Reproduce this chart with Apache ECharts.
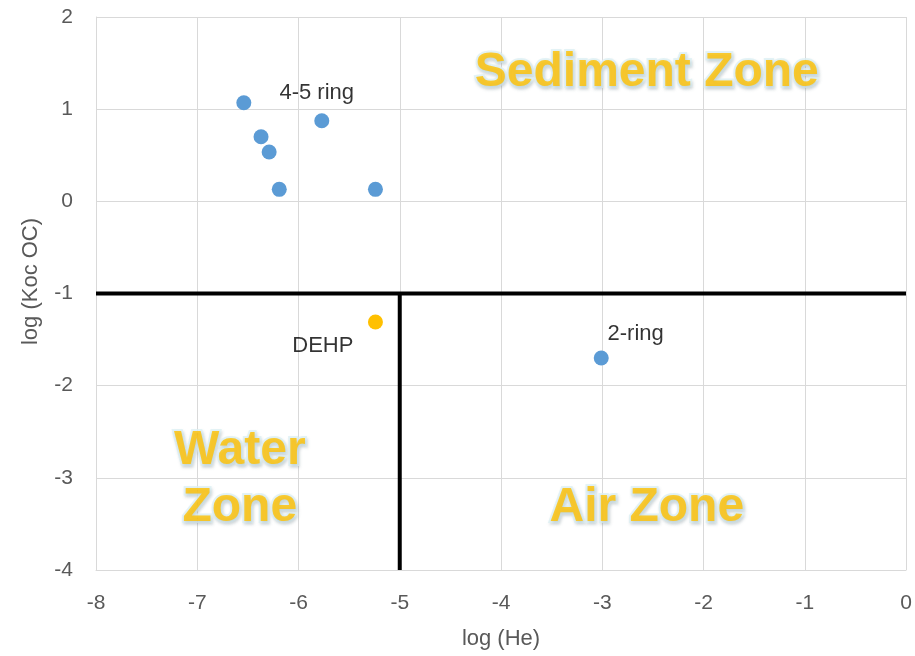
<!DOCTYPE html>
<html>
<head>
<meta charset="utf-8">
<script src="https://cdn.jsdelivr.net/npm/echarts@6/dist/echarts.min.js"></script>
<style>
  html, body { margin: 0; padding: 0; background: #fff; }
  #chart { width: 915px; height: 656px; }
</style>
</head>
<body>
<div id="chart"></div>
<script>
// Compound groups: [log He, log Koc OC]
const ringPoints = [
  [-6.54, 1.07],
  [-6.37, 0.70],
  [-6.29, 0.535],
  [-6.19, 0.13],
  [-5.77, 0.875],
  [-5.24, 0.13],
  [-3.01, -1.70]
];
const dehpPoints = [[-5.24, -1.31]];

// Point annotations
const pointLabels = [
  { text: '4-5 ring', at: [-5.82, 1.18] },
  { text: 'DEHP', at: [-5.76, -1.57] },
  { text: '2-ring', at: [-2.67, -1.44] }
];

// Zone names
const zoneLabels = [
  { text: 'Sediment Zone', at: [-2.56, 1.40] },
  { text: 'Water\nZone', at: [-6.58, -3.02] },
  { text: 'Air Zone', at: [-2.56, -3.33] }
];

// Zone boundaries
const boundaryH = [[-8, -1], [0, -1]];
const boundaryV = [[-5, -1], [-5, -4]];

const xTicks = { min: -8, max: 0, interval: 1 };
const yTicks = { min: -4, max: 2, interval: 1 };

const FONT = 'Liberation Sans';
const chart = echarts.init(document.getElementById('chart'));

const zoneTextStyle = {
  show: true,
  position: 'inside',
  formatter: p => p.data.name,
  fontFamily: 'Liberation Sans',
  fontWeight: 'bold',
  fontSize: 48,
  lineHeight: 57,
  align: 'center',
  color: '#FFC000',
  textBorderColor: '#DDF0F4',
  textBorderWidth: 4,
  textShadowColor: 'rgba(110,130,140,0.3)',
  textShadowBlur: 3,
  textShadowOffsetX: 1,
  textShadowOffsetY: 2
};

chart.setOption({
  animation: false,
  backgroundColor: '#ffffff',
  grid: { left: 96, right: 9, top: 17, bottom: 86, containLabel: false },
  xAxis: {
    type: 'value',
    min: xTicks.min, max: xTicks.max, interval: xTicks.interval,
    name: 'log (He)', nameLocation: 'middle', nameGap: 58,
    nameTextStyle: { fontFamily: FONT, fontSize: 22, color: '#595959' },
    axisLine: { show: true, onZero: false, lineStyle: { color: '#d9d9d9', width: 1 } },
    axisTick: { show: false },
    axisLabel: { fontFamily: FONT, fontSize: 21, color: '#595959', margin: 23 },
    splitLine: { show: true, lineStyle: { color: '#d9d9d9', width: 1 } }
  },
  yAxis: {
    type: 'value',
    min: yTicks.min, max: yTicks.max, interval: yTicks.interval,
    name: 'log (Koc OC)', nameLocation: 'middle', nameGap: 54,
    nameTextStyle: { fontFamily: FONT, fontSize: 22, color: '#595959', padding: [0, 0, 0, 24] },
    axisLine: { show: true, onZero: false, lineStyle: { color: '#d9d9d9', width: 1 } },
    axisTick: { show: false },
    axisLabel: { fontFamily: FONT, fontSize: 21, color: '#595959', margin: 23 },
    splitLine: { show: true, lineStyle: { color: '#d9d9d9', width: 1 } }
  },
  series: [
    {
      type: 'line', data: boundaryH, symbol: 'none', silent: true,
      lineStyle: { color: '#000', width: 4 }, z: 3
    },
    {
      type: 'line', data: boundaryV, symbol: 'none', silent: true,
      lineStyle: { color: '#000', width: 4 }, z: 3
    },
    {
      type: 'scatter', data: ringPoints, symbolSize: 15,
      itemStyle: { color: '#5B9BD5', opacity: 1 }, z: 4
    },
    {
      type: 'scatter', data: dehpPoints, symbolSize: 15,
      itemStyle: { color: '#FFC000', opacity: 1 }, z: 4
    },
    {
      type: 'scatter', symbolSize: 0, silent: true, z: 5,
      data: pointLabels.map(d => ({ name: d.text, value: d.at })),
      label: {
        show: true, position: 'inside',
        formatter: p => p.data.name,
        fontFamily: FONT, fontSize: 22, color: '#000'
      }
    },
    {
      type: 'scatter', symbolSize: 0, silent: true, z: 6,
      data: zoneLabels.map(d => ({ name: d.text, value: d.at })),
      label: zoneTextStyle
    }
  ]
});
</script>
</body>
</html>
